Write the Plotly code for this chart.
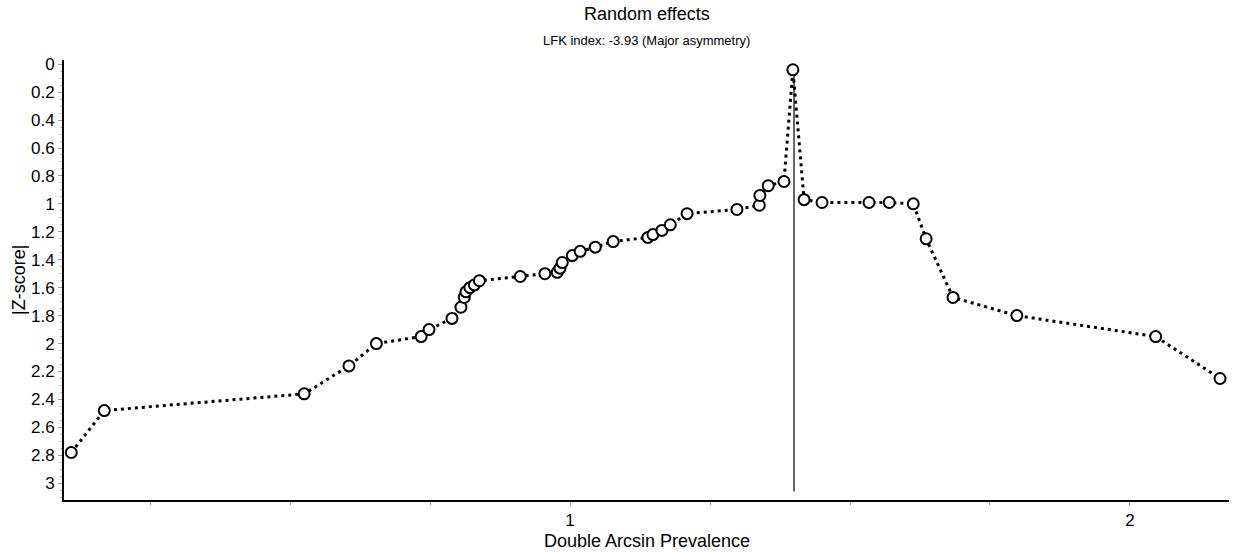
import plotly.graph_objects as go

# Data
prevalence = [0.109, 0.168, 0.525, 0.605, 0.654, 0.734, 0.748, 0.789, 0.805, 0.811,
              0.814, 0.821, 0.829, 0.838, 0.911, 0.955, 0.977, 0.982, 0.986, 1.004,
              1.018, 1.045, 1.077, 1.139, 1.148, 1.164, 1.179, 1.209, 1.298, 1.338,
              1.339, 1.354, 1.382, 1.398, 1.418, 1.450, 1.534, 1.570, 1.613, 1.636,
              1.684, 1.798, 2.046, 2.161]
z_score = [2.78, 2.48, 2.36, 2.16, 2.00, 1.95, 1.90, 1.82, 1.74, 1.67,
           1.63, 1.60, 1.58, 1.55, 1.52, 1.50, 1.49, 1.46, 1.42, 1.37,
           1.34, 1.31, 1.27, 1.24, 1.22, 1.19, 1.15, 1.07, 1.04, 1.01,
           0.94, 0.87, 0.84, 0.04, 0.97, 0.99, 0.99, 0.99, 1.00, 1.25,
           1.67, 1.80, 1.95, 2.25]
pooled_x = [1.40, 1.40]
pooled_z = [0.04, 3.06]

x_tickvals = [1, 2]
x_ticktext = ["1", "2"]
y_tickvals = [0, 0.2, 0.4, 0.6, 0.8, 1, 1.2, 1.4, 1.6, 1.8, 2, 2.2, 2.4, 2.6, 2.8, 3]
y_ticktext = ["0", "0.2", "0.4", "0.6", "0.8", "1", "1.2", "1.4", "1.6", "1.8",
              "2", "2.2", "2.4", "2.6", "2.8", "3"]

FONT = "Liberation Sans, Arial, sans-serif"

fig = go.Figure()
fig.add_trace(go.Scatter(x=pooled_x, y=pooled_z, mode="lines",
                         line=dict(color="black", width=1.2), hoverinfo="skip",
                         showlegend=False))
fig.add_trace(go.Scatter(x=prevalence, y=z_score, mode="lines+markers",
                         line=dict(color="black", width=3, dash="3px,4px"),
                         marker=dict(symbol="circle", size=11, color="white",
                                     line=dict(color="black", width=2)),
                         cliponaxis=False, showlegend=False))

fig.update_layout(
    width=1234, height=552,
    margin=dict(l=64, r=5, t=60, b=52, autoexpand=False),
    paper_bgcolor="white", plot_bgcolor="white",
    font=dict(family=FONT, color="black", size=16),
    annotations=[
        dict(text="Random effects", x=0.5, xref="paper", y=1, yref="paper",
             yanchor="middle", yshift=46, showarrow=False, font=dict(size=18)),
        dict(text="LFK index: -3.93 (Major asymmetry)", x=0.5, xref="paper",
             y=1, yref="paper", yanchor="middle", yshift=20, showarrow=False,
             font=dict(size=13)),
        dict(text="Double Arcsin Prevalence", x=0.5, xref="paper", y=0,
             yref="paper", yanchor="middle", yshift=-41, showarrow=False,
             font=dict(size=18)),
        dict(text="|Z-score|", x=0, xref="paper", y=0.5, yref="paper",
             xanchor="center", xshift=-45, textangle=-90, showarrow=False,
             font=dict(size=18)),
    ],
)

fig.update_xaxes(
    range=[0.096, 2.177], tickvals=x_tickvals, ticktext=x_ticktext,
    showgrid=False, zeroline=False, showline=True, linecolor="black", linewidth=2,
    ticks="outside", ticklen=4, tickcolor="#999", tickwidth=1, automargin=False,
    minor=dict(dtick=0.25, tick0=0, ticks="outside", ticklen=3, tickcolor="#999"),
    tickfont=dict(size=17),
)
fig.update_yaxes(
    range=[3.12, -0.03], tickvals=y_tickvals, ticktext=y_ticktext,
    showgrid=False, zeroline=False, showline=True, linecolor="black", linewidth=2,
    ticks="outside", ticklen=4, tickcolor="#999", tickwidth=1, automargin=False,
    minor=dict(dtick=0.05, tick0=0, ticks="outside", ticklen=2, tickcolor="#bbb"),
    tickfont=dict(size=17),
)

fig.write_html("out.html",
               config={"displayModeBar": False},
               post_script="document.body.style.margin='0';document.body.style.overflow='hidden';")
